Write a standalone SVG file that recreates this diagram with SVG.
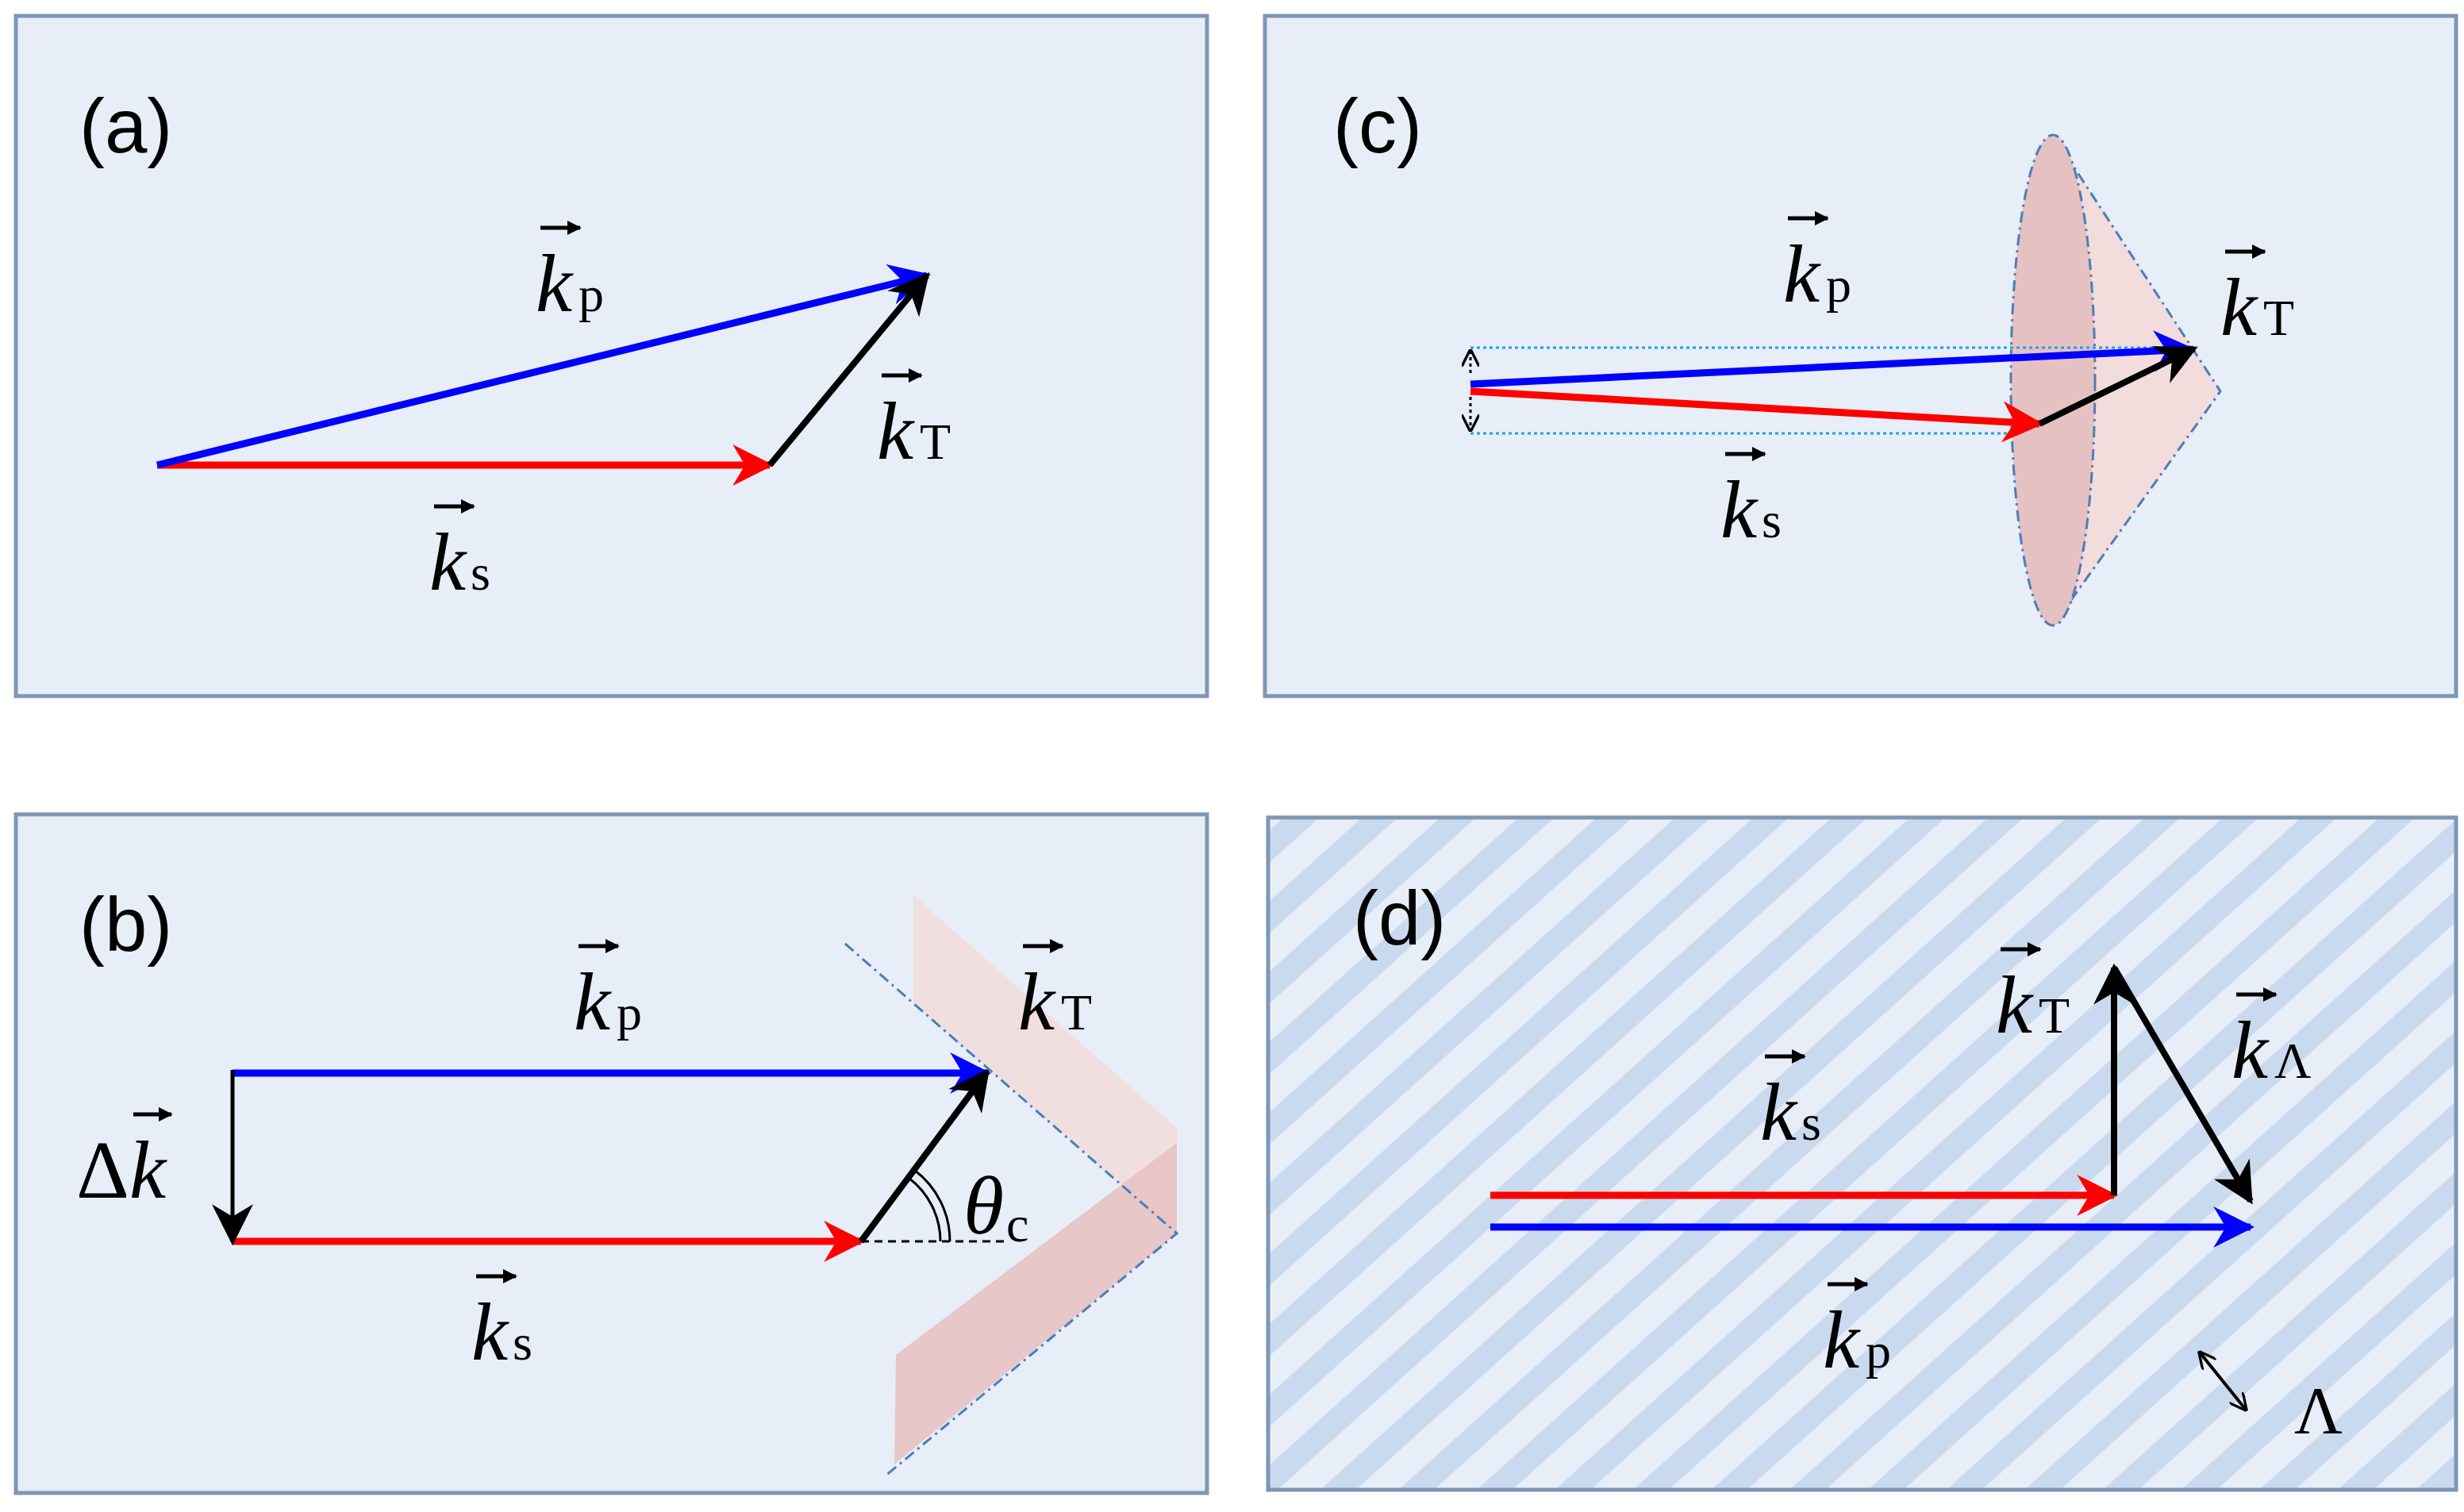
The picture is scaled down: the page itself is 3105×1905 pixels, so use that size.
<svg xmlns="http://www.w3.org/2000/svg" width="3105" height="1905" viewBox="0 0 3105 1905">
<style>
.panel{fill:#e7eef7;stroke:#7f96b5;stroke-width:5}
.k{font-family:"Liberation Serif","Times New Roman",serif;font-style:italic;font-size:104px;fill:#000}
.sub{font-family:"Liberation Serif","Times New Roman",serif;font-size:64px;fill:#000}
.lab{font-family:"Liberation Sans",Arial,sans-serif;font-size:96px;fill:#000}
.ov{stroke:#000;stroke-width:5;marker-end:url(#mo)}
.r{stroke:#ff0000;stroke-width:9;fill:none;marker-end:url(#mr)}
.b{stroke:#0000ff;stroke-width:9;fill:none;marker-end:url(#mb)}
.blk{stroke:#000;stroke-width:8;fill:none;marker-end:url(#mk)}
.dd{stroke:#4a7ebb;stroke-width:3;fill:none;stroke-dasharray:14 6 3 6}
</style>
<defs>
<marker id="mr" viewBox="0 0 10 10" refX="9" refY="5" markerWidth="52" markerHeight="52" markerUnits="userSpaceOnUse" orient="auto"><path d="M0,0 L10,5 L0,10 L3,5z" fill="#ff0000"/></marker>
<marker id="mb" viewBox="0 0 10 10" refX="9" refY="5" markerWidth="52" markerHeight="52" markerUnits="userSpaceOnUse" orient="auto"><path d="M0,0 L10,5 L0,10 L3,5z" fill="#0000ff"/></marker>
<marker id="mk" viewBox="0 0 10 10" refX="9" refY="5" markerWidth="52" markerHeight="52" markerUnits="userSpaceOnUse" orient="auto"><path d="M0,0 L10,5 L0,10 L3,5z" fill="#000"/></marker>
<marker id="mo" viewBox="0 0 10 10" refX="9" refY="5" markerWidth="18" markerHeight="18" markerUnits="userSpaceOnUse" orient="auto"><path d="M0,0 L10,5 L0,10z" fill="#000"/></marker>
<marker id="ms" viewBox="0 0 10 10" refX="9" refY="5" markerWidth="22" markerHeight="22" markerUnits="userSpaceOnUse" orient="auto"><path d="M0,0 L10,5 L0,10" fill="none" stroke="#000" stroke-width="1.5"/></marker>
<pattern id="stripes" width="66" height="66" patternUnits="userSpaceOnUse" patternTransform="rotate(-42)"><rect width="66" height="66" fill="#e7eef7"/><rect width="66" height="30" fill="#c9daee"/></pattern>
</defs>

<g id="panel-a">
<rect class="panel" x="20" y="20" width="1501" height="857"/>
<text class="lab" x="100" y="192">(a)</text>
<g id="a-ks"><line x1="547" y1="638" x2="597" y2="638" class="ov"/><text class="k" x="541" y="743">k</text><text class="sub" x="593" y="743">s</text></g>
<g id="a-kp"><line x1="681" y1="287" x2="731" y2="287" class="ov"/><text class="k" x="675" y="392">k</text><text class="sub" x="729" y="392">p</text></g>
<g id="a-kT"><line x1="1111" y1="473" x2="1161" y2="473" class="ov"/><text class="k" x="1105" y="578">k</text><text class="sub" x="1159" y="578">T</text></g>
</g>

<g id="panel-b">
<rect class="panel" x="20" y="1026" width="1501" height="855"/>
<polygon points="1151,1128 1483,1421 1483,1554 1151,1264" fill="#f2dcdc" opacity="0.9"/>
<polygon points="1483,1440 1483,1554 1127,1845 1129,1707" fill="#e8c2c2" opacity="0.9"/>
<text class="lab" x="100" y="1198">(b)</text>
<g id="b-kp"><line x1="729" y1="1192" x2="779" y2="1192" class="ov"/><text class="k" x="723" y="1297">k</text><text class="sub" x="777" y="1297">p</text></g>
<g id="b-ks"><line x1="600" y1="1608" x2="650" y2="1608" class="ov"/><text class="k" x="594" y="1713">k</text><text class="sub" x="646" y="1713">s</text></g>
<g id="b-kT"><line x1="1289" y1="1192" x2="1339" y2="1192" class="ov"/><text class="k" x="1283" y="1297">k</text><text class="sub" x="1337" y="1297">T</text></g>
<g id="b-dk"><line x1="168" y1="1404" x2="216" y2="1404" class="ov"/><text class="k" x="96" y="1509"><tspan font-style="normal">Δ</tspan>k</text></g>
<g id="b-theta"><text class="k" x="1214" y="1554">θ</text><text class="sub" x="1268" y="1564">c</text></g>
</g>

<g id="panel-c">
<rect class="panel" x="1594" y="20" width="1501" height="857"/>
<path d="M2587,170 L2798,493 L2587,788 Z" fill="#f2dcdc"/>
<path d="M2587,170 L2798,493 L2587,788" class="dd"/>
<ellipse cx="2587" cy="479" rx="53" ry="309" class="dd" style="fill:#e6c1c1"/>
<text class="lab" x="1680" y="192">(c)</text>
<line x1="1853" y1="438" x2="2740" y2="438" stroke="#1aa3e8" stroke-width="3" stroke-dasharray="4 4"/>
<line x1="1853" y1="546" x2="2537" y2="546" stroke="#1aa3e8" stroke-width="3" stroke-dasharray="4 4"/>
<g id="c-kp"><line x1="2253" y1="275" x2="2303" y2="275" class="ov"/><text class="k" x="2247" y="380">k</text><text class="sub" x="2301" y="380">p</text></g>
<g id="c-ks"><line x1="2174" y1="572" x2="2224" y2="572" class="ov"/><text class="k" x="2168" y="677">k</text><text class="sub" x="2220" y="677">s</text></g>
<g id="c-kT"><line x1="2804" y1="317" x2="2854" y2="317" class="ov"/><text class="k" x="2798" y="422">k</text><text class="sub" x="2852" y="422">T</text></g>
</g>

<g id="panel-d">
<rect x="1598" y="1030" width="1497" height="847" fill="url(#stripes)" stroke="#7f96b5" stroke-width="5"/>
<text class="lab" x="1705" y="1190">(d)</text>
<g id="d-kT"><line x1="2521" y1="1196" x2="2571" y2="1196" class="ov"/><text class="k" x="2515" y="1301">k</text><text class="sub" x="2569" y="1301">T</text></g>
<g id="d-kL"><line x1="2818" y1="1253" x2="2868" y2="1253" class="ov"/><text class="k" x="2812" y="1358">k</text><text class="sub" x="2866" y="1358">Λ</text></g>
<g id="d-ks"><line x1="2224" y1="1331" x2="2274" y2="1331" class="ov"/><text class="k" x="2218" y="1436">k</text><text class="sub" x="2270" y="1436">s</text></g>
<g id="d-kp"><line x1="2303" y1="1618" x2="2353" y2="1618" class="ov"/><text class="k" x="2297" y="1723">k</text><text class="sub" x="2351" y="1723">p</text></g>
<text class="k" x="2891" y="1806" style="font-style:normal;font-size:84px">Λ</text>
</g>

<g id="connectors">
<line x1="198" y1="586" x2="970" y2="586" class="r"/>
<line x1="198" y1="586" x2="1168" y2="347" class="b"/>
<line x1="970" y1="586" x2="1168" y2="347" class="blk"/>

<line x1="293" y1="1352" x2="1244" y2="1352" class="b"/>
<line x1="293" y1="1564" x2="1085" y2="1564" class="r"/>
<line x1="293" y1="1348" x2="293" y2="1564" stroke="#000" stroke-width="5" marker-end="url(#mk)"/>
<line x1="1085" y1="1564" x2="1244" y2="1350" class="blk"/>
<line x1="1085" y1="1564" x2="1267" y2="1564" stroke="#000" stroke-width="3" stroke-dasharray="10 7"/>
<path d="M1185,1564 A100,100 0 0 0 1145,1484" fill="none" stroke="#000" stroke-width="3"/>
<path d="M1197,1564 A112,112 0 0 0 1152,1474" fill="none" stroke="#000" stroke-width="3"/>
<path d="M1065,1189 L1483,1554 L1115,1860" class="dd"/>

<line x1="1853" y1="484" x2="2761" y2="440" class="b"/>
<line x1="1853" y1="493" x2="2570" y2="534" class="r"/>
<line x1="2570" y1="534" x2="2765" y2="439" class="blk"/>
<line x1="1853" y1="470" x2="1853" y2="442" stroke="#000" stroke-width="3" stroke-dasharray="4 4" marker-end="url(#ms)"/>
<line x1="1853" y1="500" x2="1853" y2="542" stroke="#000" stroke-width="3" stroke-dasharray="4 4" marker-end="url(#ms)"/>

<line x1="1878" y1="1506" x2="2664" y2="1506" class="r"/>
<line x1="1878" y1="1546" x2="2836" y2="1546" class="b"/>
<line x1="2664" y1="1506" x2="2664" y2="1219" class="blk"/>
<line x1="2664" y1="1219" x2="2836" y2="1513" class="blk"/>
<line x1="2801" y1="1740" x2="2772" y2="1704" stroke="#000" stroke-width="4" marker-end="url(#ms)"/>
<line x1="2801" y1="1740" x2="2830" y2="1776" stroke="#000" stroke-width="4" marker-end="url(#ms)"/>
</g>
</svg>
